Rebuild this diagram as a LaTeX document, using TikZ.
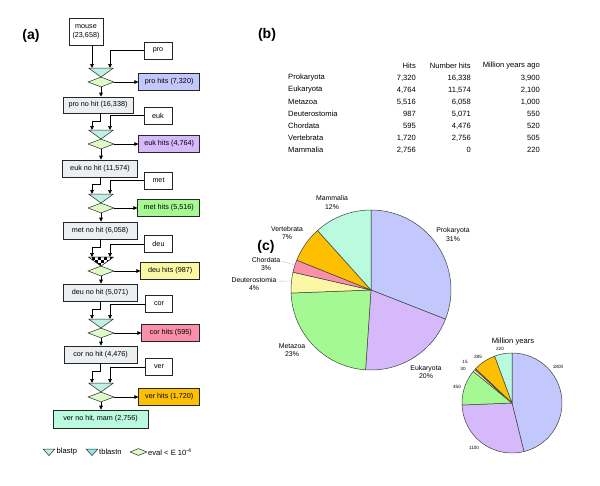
\documentclass[tikz,border=0pt]{standalone}
\usepackage{fontspec}
\setmainfont{Liberation Sans}
\usetikzlibrary{arrows.meta,positioning,shapes.geometric,calc}

\definecolor{prokblue}{HTML}{C2C8FB}
\definecolor{eukpurple}{HTML}{D6B9FB}
\definecolor{metgreen}{HTML}{A5F993}
\definecolor{deuyellow}{HTML}{FBF8A5}
\definecolor{corpink}{HTML}{F98FA8}
\definecolor{verorange}{HTML}{FCC000}
\definecolor{mammint}{HTML}{BAFBDF}
\definecolor{nohitgray}{HTML}{ECEFF1}
\definecolor{blastpcol}{HTML}{BFF1E2}
\definecolor{tblastncol}{HTML}{8FE8F0}
\definecolor{evalcol}{HTML}{DCFBC6}

\tikzset{
  box/.style={draw=black!85, line width=0.6pt, inner sep=1pt, minimum height=17pt,
    font=\fontsize{7.2}{8.8}\selectfont},
  querybox/.style={box, fill=white, minimum width=28pt},
  hitbox/.style={box, minimum width=61pt, anchor=east},
  nohitbox/.style={box, fill=nohitgray},
  evaldia/.style={shape=diamond, draw=black!85, fill=evalcol, line width=0.5pt,
    inner sep=0pt, minimum width=26pt, minimum height=10pt},
  blasttri/.style={draw=black!85, fill=blastpcol, line width=0.5pt, line join=round},
  arr/.style={-{Triangle[length=4pt,width=3.6pt]}, line width=0.6pt},
  panellabel/.style={font=\bfseries\fontsize{14}{16}\selectfont},
  tabtext/.style={font=\fontsize{7.6}{9}\selectfont, inner sep=0pt},
  pielabel/.style={font=\fontsize{6.9}{8.2}\selectfont, align=center, inner sep=0pt},
  smalllabel/.style={font=\fontsize{4.6}{5}\selectfont, inner sep=0pt},
  slice/.style={draw=black!75, line width=0.5pt, line join=round},
  leader/.style={draw=gray!55, line width=0.3pt}
}

\begin{document}
\begin{tikzpicture}[x=1pt, y=-1pt]
    \useasboundingbox (0,0) rectangle (600,485);

    % Panel labels
    \node[panellabel] (labela) at (31,36) {(a)};
    \node[panellabel] (labelb) at (267,35) {(b)};
    \node[panellabel] (labelc) at (266,247) {(c)};

    % Flowchart: query boxes
    \node[querybox, minimum width=34pt, minimum height=27pt, align=center] (mouse) at (86,31.5) {mouse\\(23,658)};
    \node[querybox] (pro) at (158,50.5) {pro};
    \node[querybox] (euk) at (158,115.5) {euk};
    \node[querybox] (met) at (158.5,180.5) {met};
    \node[querybox] (deu) at (158.5,244) {deu};
    \node[querybox, minimum width=27pt] (cor) at (159,304) {cor};
    \node[querybox, minimum width=27pt] (ver) at (159,367) {ver};

    % Filters: search triangle and e-value diamond
    \foreach \i/\t in {1/68,2/130,3/194,4/257,5/319,6/383} {
        \coordinate (tl\i) at (92,\t);
        \coordinate (tr\i) at (110,\t);
        \filldraw[blasttri] (88.5,\t) -- (113.5,\t) -- (101,\t+9) -- cycle;
        \node[evaldia] (d\i) at (101,\t+14) {};
    }

    % Checkered triangle (deu)
    \begin{scope}
        \clip (88.5,257) -- (113.5,257) -- (101,266) -- cycle;
        \fill[white] (88,257) rectangle (114,266);
        \foreach \i in {0,...,8} {
            \foreach \j in {0,...,2} {
                \pgfmathtruncatemacro\k{mod(\i+\j,2)}
                \ifnum\k=1 \fill[black] (88.5+3*\i,257+3*\j) rectangle ++(3,3); \fi
            }
        }
    \end{scope}
    \draw[blasttri, fill=none] (88.5,257) -- (113.5,257) -- (101,266) -- cycle;

    % Hits
    \node[hitbox, fill=prokblue] (prohits) at (200,82) {pro hits (7,320)};
    \node[hitbox, fill=eukpurple] (eukhits) at (200,144) {euk hits (4,764)};
    \node[hitbox, fill=metgreen, minimum width=62pt] (methits) at (200,208) {met hits (5,516)};
    \node[hitbox, fill=deuyellow, minimum width=59pt] (deuhits) at (200,271) {deu hits (987)};
    \node[hitbox, fill=corpink, minimum width=58pt] (corhits) at (200,333) {cor hits (595)};
    \node[hitbox, fill=verorange] (verhits) at (200,397) {ver hits (1,720)};

    % No hits
    \node[nohitbox, minimum width=70pt, minimum height=16pt] (pronohit) at (98,105) {pro no hit (16,338)};
    \node[nohitbox, minimum width=75pt] (euknohit) at (100,168.5) {euk no hit (11,574)};
    \node[nohitbox, minimum width=74pt] (metnohit) at (100,230.5) {met no hit (6,058)};
    \node[nohitbox, minimum width=74pt] (deunohit) at (100,292.5) {deu no hit (5,071)};
    \node[nohitbox, minimum width=73pt] (cornohit) at (100.5,354.5) {cor no hit (4,476)};
    \node[nohitbox, minimum width=95pt, minimum height=18pt, fill=mammint] (vernohit) at (100.5,419) {ver no hit, mam (2,756)};

    % Connectors
    \draw[arr] (mouse.south -| tl1) -- (tl1);
    \draw[arr] (pro.west) -| (tr1);
    \draw[arr] (pronohit.south -| 100,0) -- ++(0,8) -| (tl2);
    \draw[arr] (euk.west) -| (tr2);
    \draw[arr] (euknohit.south -| 100,0) -- ++(0,7) -| (tl3);
    \draw[arr] (met.west) -| (tr3);
    \draw[arr] (metnohit.south -| 100,0) -- ++(0,8) -| (tl4);
    \draw[arr] (deu.west) -| (tr4);
    \draw[arr] (deunohit.south -| 100,0) -- ++(0,8) -| (tl5);
    \draw[arr] (cor.west) -| (tr5);
    \draw[arr] (cornohit.south -| 100,0) -- ++(0,8) -| (tl6);
    \draw[arr] (ver.west) -| (tr6);
    \foreach \i/\h/\n in {1/prohits/pronohit,2/eukhits/euknohit,3/methits/metnohit,
                          4/deuhits/deunohit,5/corhits/cornohit,6/verhits/vernohit} {
        \draw[arr] (d\i.east) -- (\h.west);
        \draw[arr] (d\i.south) -- (d\i.south |- \n.north);
    }

    % Legend
    \filldraw[blasttri] (43,449) -- (55,449) -- (49,455.5) -- cycle;
    \node[tabtext, anchor=west] (lgblastp) at (56.5,452) {blastp};
    \filldraw[blasttri, fill=tblastncol] (86,449) -- (98,449) -- (92,455.5) -- cycle;
    \node[tabtext, anchor=west] (lgtblastn) at (99,452) {tblastn};
    \node[evaldia, minimum width=17pt, minimum height=7pt] (lgeval) at (138.5,452) {};
    \node[tabtext, anchor=west] (lgevaltext) at (148,452) {eval < E 10\textsuperscript{-4}};

    % Table (b)
    \node[tabtext, anchor=east] (hdhits) at (416,66) {Hits};
    \node[tabtext, anchor=east] (hdnum) at (471,66) {Number hits};
    \node[tabtext, anchor=east] (hdmya) at (540,66) {Million years ago};
    \foreach \name/\hits/\num/\mya [count=\i] in {Prokaryota/{7,320}/{16,338}/{3,900},
        Eukaryota/{4,764}/{11,574}/{2,100}, Metazoa/{5,516}/{6,058}/{1,000},
        Deuterostomia/987/{5,071}/550, Chordata/595/{4,476}/520,
        Vertebrata/{1,720}/{2,756}/505, Mammalia/{2,756}/0/220} {
        \node[tabtext, anchor=west] (tname\i) at (288,66+12*\i) {\name};
        \node[tabtext, anchor=east] (thits\i) at (416,66+12*\i) {\hits};
        \node[tabtext, anchor=east] (tnum\i) at (471,66+12*\i) {\num};
        \node[tabtext, anchor=east] (tmya\i) at (540,66+12*\i) {\mya};
    }

    % Pie of hits
    \coordinate (pc) at (371,290);
    \foreach \a/\b/\c in {-90/21.39/prokblue, 21.39/93.88/eukpurple, 93.88/177.82/metgreen,
        177.82/192.84/deuyellow, 192.84/201.89/corpink, 201.89/228.06/verorange,
        228.06/270/mammint}
        \filldraw[slice, fill=\c] (pc) -- ++(\a:80) arc[start angle=\a, end angle=\b, radius=80] -- cycle;

    \node[pielabel] (lbprok) at (453,234.5) {Prokaryota\\31\%};
    \node[pielabel] (lbeuk) at (426,372) {Eukaryota\\20\%};
    \node[pielabel] (lbmet) at (292,350) {Metazoa\\23\%};
    \node[pielabel] (lbdeu) at (254,284) {Deuterostomia\\4\%};
    \node[pielabel] (lbcho) at (266,264) {Chordata\\3\%};
    \node[pielabel] (lbver) at (287,233) {Vertebrata\\7\%};
    \node[pielabel] (lbmam) at (332,202.5) {Mammalia\\12\%};
    \coordinate (deuend) at (292,281);
    \coordinate (choend) at (295,265);
    \draw[leader] (lbdeu.north east) ++(1,4) -- (deuend);
    \draw[leader] (lbcho.north east) ++(1,4) -- (choend);

    % Pie of million years
    \coordinate (spc) at (512,403);
    \foreach \a/\b/\c in {-90/76.15/prokblue, 76.15/177.69/eukpurple, 177.69/219.23/metgreen,
        219.23/222.00/deuyellow, 222.00/223.38/corpink, 223.38/249.69/verorange,
        249.69/270/mammint}
        \filldraw[slice, fill=\c] (spc) -- ++(\a:50) arc[start angle=\a, end angle=\b, radius=50] -- cycle;

    \node[tabtext] (smtitle) at (513,342) {Million years};
    \node[smalllabel] (sm1800) at (558,367) {1800};
    \node[smalllabel] (sm1100) at (474,448) {1100};
    \node[smalllabel] (sm450) at (457,387) {450};
    \node[smalllabel] (sm30) at (463,369) {30};
    \node[smalllabel] (sm15) at (465,362) {15};
    \node[smalllabel] (sm285) at (478,357) {285};
    \node[smalllabel] (sm220) at (500,349) {220};
\end{tikzpicture}
\end{document}
